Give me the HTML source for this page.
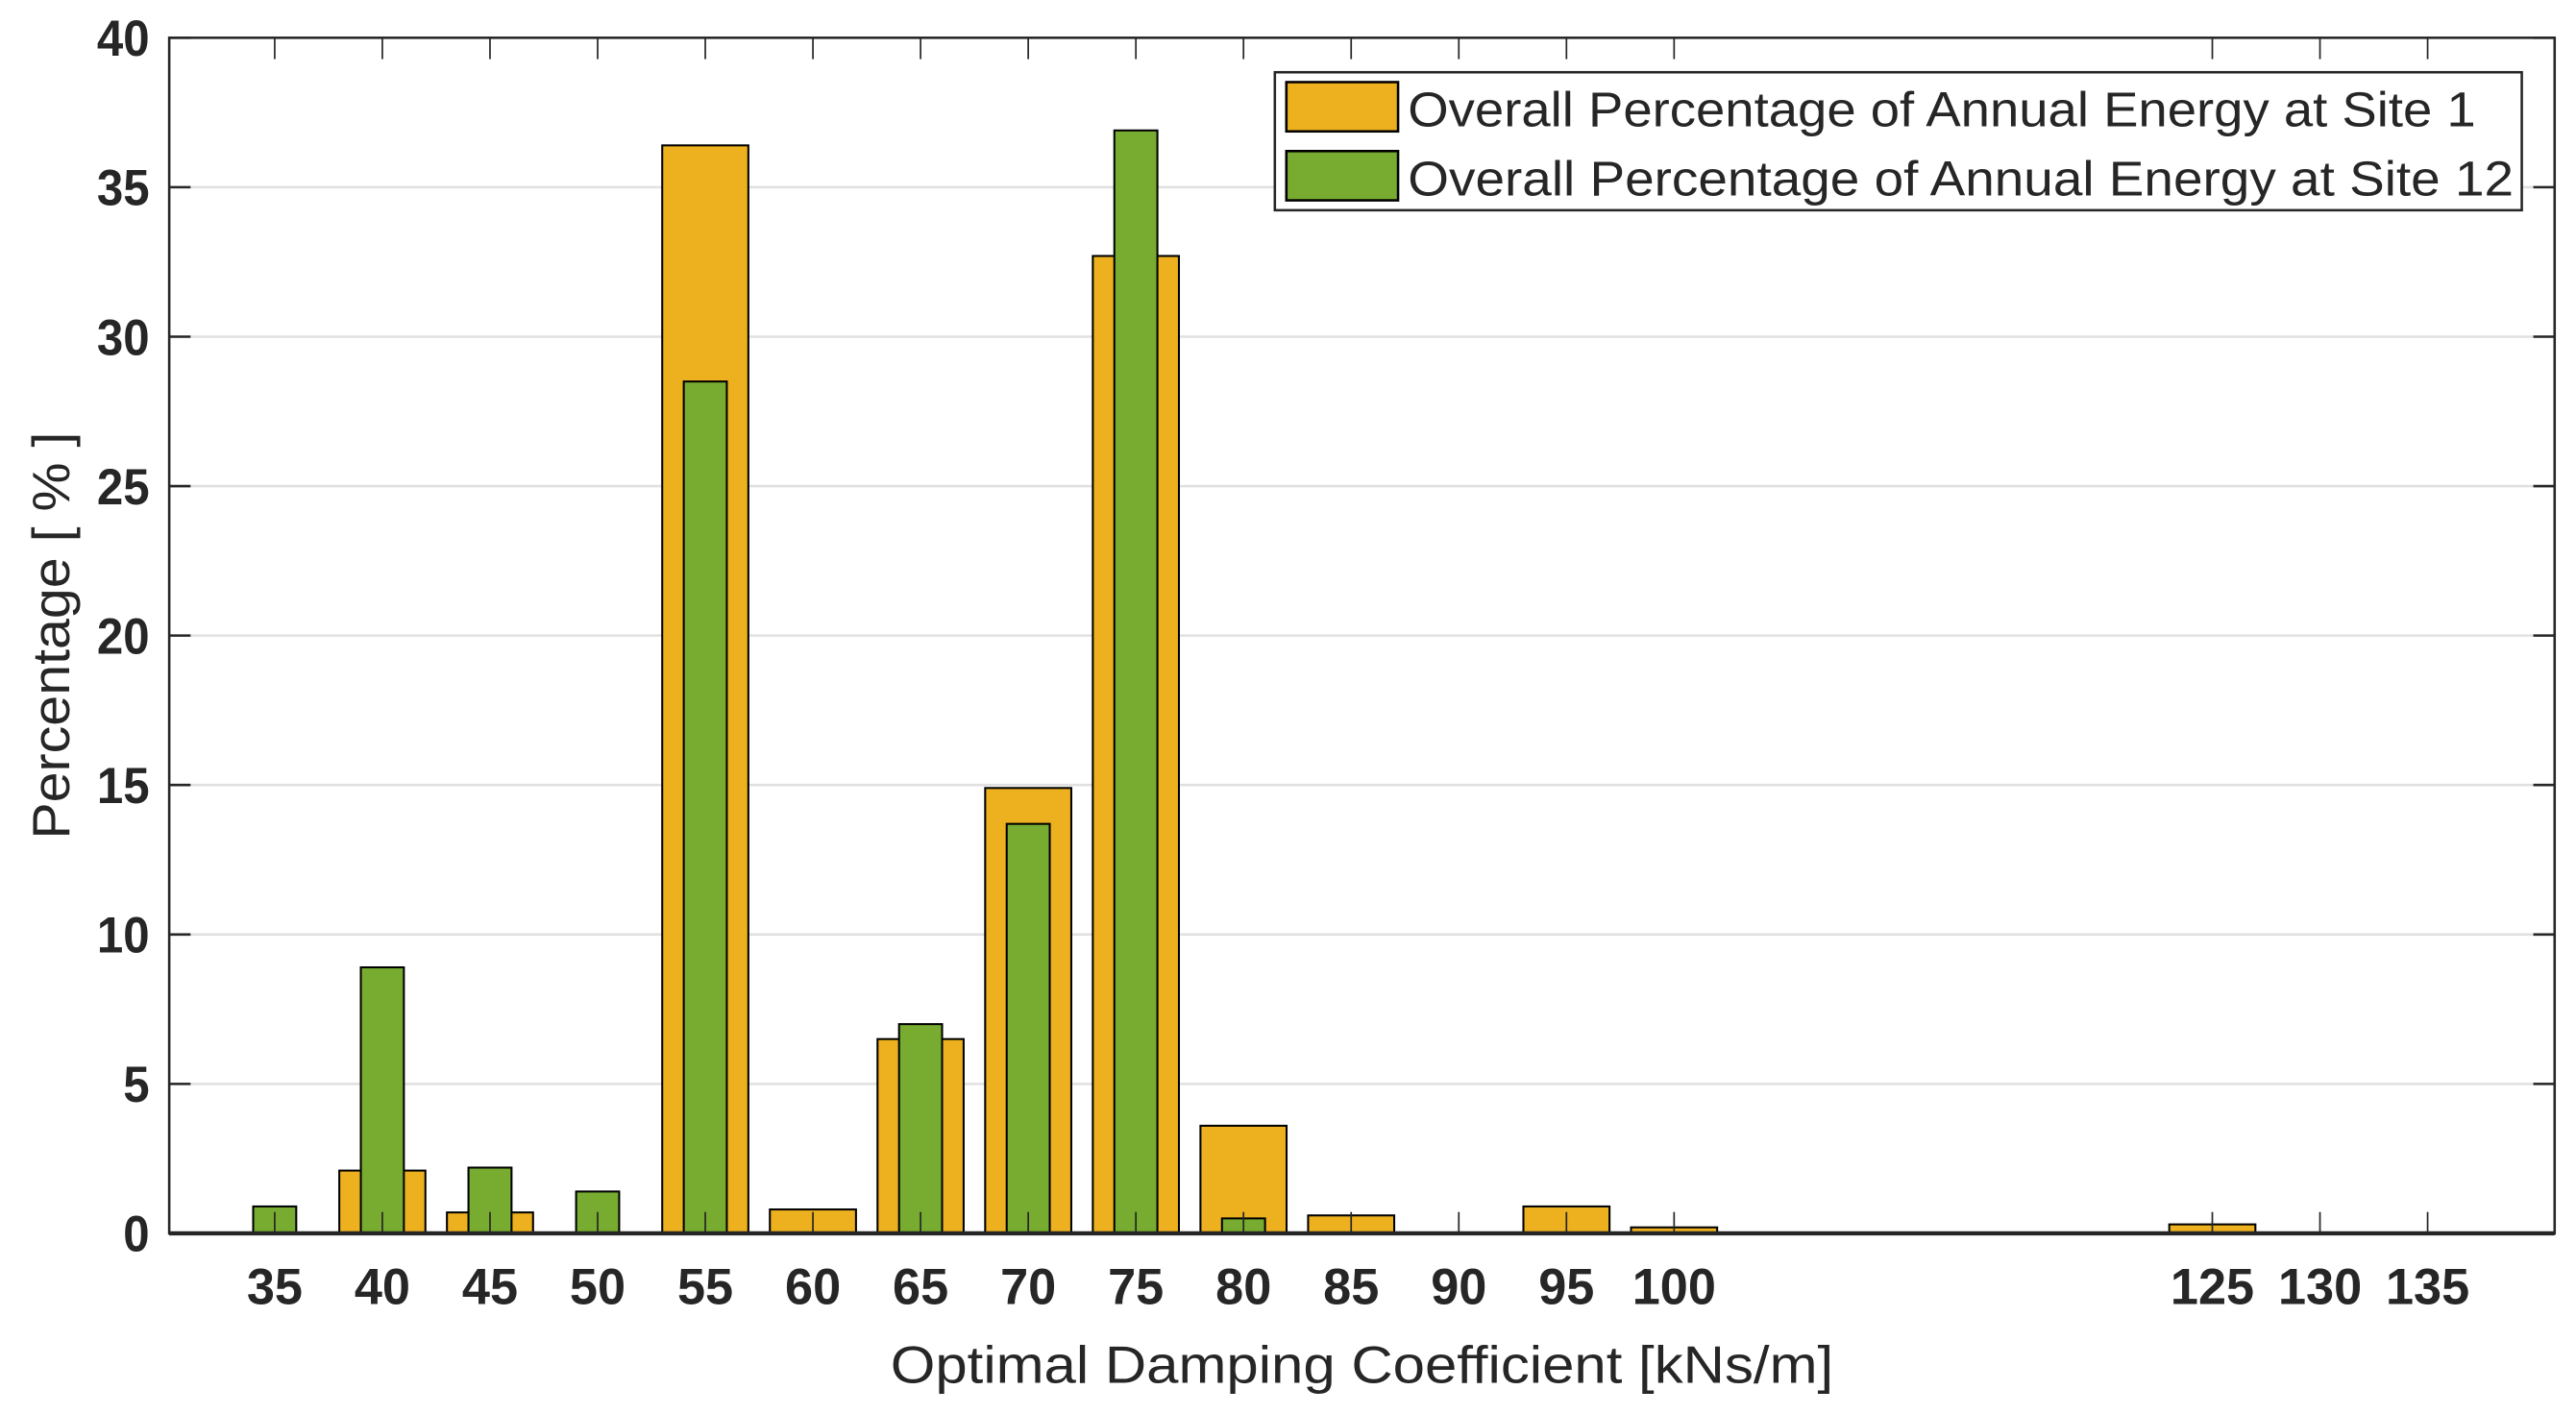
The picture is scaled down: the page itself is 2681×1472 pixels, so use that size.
<!DOCTYPE html>
<html><head><meta charset="utf-8"><style>
html,body{margin:0;padding:0;background:#fff;}
svg{display:block;}
text{font-family:"Liberation Sans",sans-serif;fill:#262626;}
</style></head><body>
<svg id="chart" width="2681" height="1472" viewBox="0 0 1568 861" preserveAspectRatio="none" xmlns="http://www.w3.org/2000/svg">
<g id="grid"></g>
<g id="bars"></g>
<g id="axes"></g>
<text x="829" y="842" text-anchor="middle" font-size="32" textLength="574" lengthAdjust="spacingAndGlyphs">Optimal Damping Coefficient [kNs/m]</text>
<text transform="translate(42,387) rotate(-90)" text-anchor="middle" font-size="32" textLength="248" lengthAdjust="spacingAndGlyphs">Percentage [ % ]</text>
<g>
<rect x="776" y="44" width="759" height="84" fill="#fff" stroke="#262626" stroke-width="1.5"/>
<rect x="783" y="50" width="68" height="30" fill="#EDB120" stroke="#000" stroke-width="1.5"/>
<text x="857" y="77" font-size="30" textLength="650" lengthAdjust="spacingAndGlyphs">Overall Percentage of Annual Energy at Site 1</text>
<rect x="783" y="92" width="68" height="30" fill="#77AC30" stroke="#000" stroke-width="1.5"/>
<text x="857" y="119" font-size="30" textLength="673" lengthAdjust="spacingAndGlyphs">Overall Percentage of Annual Energy at Site 12</text>
</g>
</svg>
<script>
const categories=[35,40,45,50,55,60,65,70,75,80,85,90,95,100,125,130,135];
const site1=[0,2.1,0.7,0,36.4,0.8,6.5,14.9,32.7,3.6,0.6,0,0.9,0.2,0.3,0,0];
const site12=[0.9,8.9,2.2,1.4,28.5,0,7.0,13.7,36.9,0.5,0,0,0,0,0,0,0];
const yTicks=[0,5,10,15,20,25,30,35,40];
const NS="http://www.w3.org/2000/svg";
const L=103,R=1555,T=23,B=751;
const xMin=30.1,xMax=140.9,yMax=40;
function xs(v){return L+(v-xMin)/(xMax-xMin)*(R-L);}
function ys(v){return B-v/yMax*(B-T);}
function mk(tag,attrs,parent){const e=document.createElementNS(NS,tag);for(const k in attrs)e.setAttribute(k,attrs[k]);parent.appendChild(e);return e;}
const grid=document.getElementById('grid'),bars=document.getElementById('bars'),axes=document.getElementById('axes');
yTicks.forEach(t=>{
  if(t>0&&t<yMax){const g=mk('line',{x1:L,x2:R,y1:ys(t),y2:ys(t),stroke:'#e0e0e0','stroke-width':1.5},grid);
  
  }
});
function drawBars(vals,w,color,name){
  vals.forEach((v,i)=>{
    if(v<=0)return;
    const x0=xs(categories[i]-w/2),x1=xs(categories[i]+w/2);
    const r=mk('rect',{x:x0,y:ys(v),width:x1-x0,height:ys(0)-ys(v),fill:color,stroke:'#000','stroke-width':1.2},bars);
    
    
  });
}
drawBars(site1,4,'#EDB120','bar-site1');
drawBars(site12,2,'#77AC30','bar-site12');
// axes box
const box=mk('rect',{x:L,y:T,width:R-L,height:B-T,fill:'none',stroke:'#262626','stroke-width':1.5},axes);


const base=mk('line',{x1:L,x2:R,y1:B,y2:B,stroke:'#262626','stroke-width':2.5},axes);


categories.forEach(c=>{
  const x=xs(c);
  mk('line',{x1:x,x2:x,y1:B,y2:B-13,stroke:'#262626','stroke-width':1},axes);
  mk('line',{x1:x,x2:x,y1:T,y2:T+13,stroke:'#262626','stroke-width':1},axes);
  const s=String(c);
  const t=mk('text',{x:x,y:B+43,'text-anchor':'middle','font-size':31,'font-weight':'bold',textLength:s.length*17,lengthAdjust:'spacingAndGlyphs'},axes);
  t.textContent=s;
  
  
});
yTicks.forEach(v=>{
  const y=ys(v);
  mk('line',{x1:L,x2:L+13,y1:y,y2:y,stroke:'#262626','stroke-width':1.5},axes);
  mk('line',{x1:R,x2:R-13,y1:y,y2:y,stroke:'#262626','stroke-width':1.5},axes);
  const s=String(v);
  const t=mk('text',{x:91,y:y+11,'text-anchor':'end','font-size':31,'font-weight':'bold',textLength:s.length*16,lengthAdjust:'spacingAndGlyphs'},axes);
  t.textContent=s;
  
  
});
</script>
</body></html>
